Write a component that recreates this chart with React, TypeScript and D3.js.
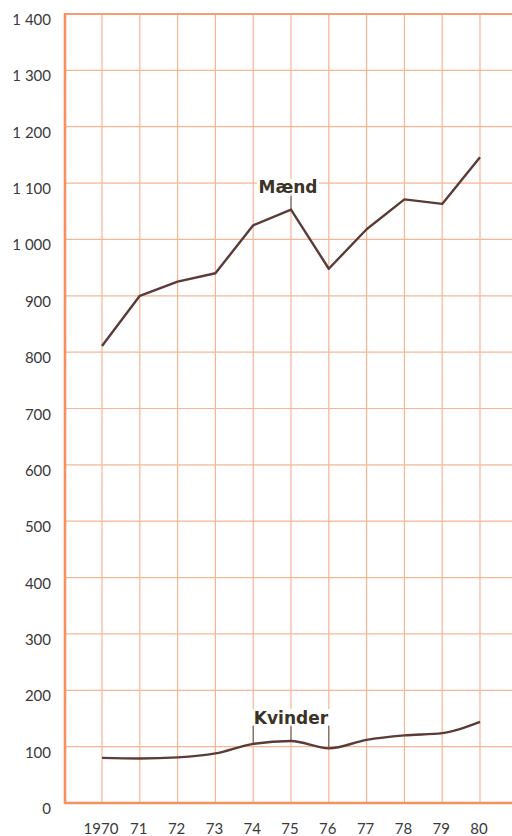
import React from "react";
import * as d3 from "d3";

const years = [1970, 1971, 1972, 1973, 1974, 1975, 1976, 1977, 1978, 1979, 1980];
const yearLabels = ["1970", "71", "72", "73", "74", "75", "76", "77", "78", "79", "80"];
const maend = [811, 900, 925, 940, 1025, 1053, 948, 1018, 1071, 1063, 1146];
const kvinder = [80, 79, 81, 88, 105, 110, 97, 112, 120, 124, 144];
const yTicks = [0, 100, 200, 300, 400, 500, 600, 700, 800, 900, 1000, 1100, 1200, 1300, 1400];

const W = 512;
const H = 836;
const LEFT = 65;
const TOP = 14;
const BOTTOM = 803;

const fmt = (v: number) => {
  const s = String(v);
  return s.length > 3 ? s.slice(0, s.length - 3) + "\u00a0" + s.slice(-3) : s;
};

export default function App() {
  const x = d3.scaleLinear().domain([1970, 1980]).range([102, 480]);
  const y = d3.scaleLinear().domain([0, 1400]).range([BOTTOM, TOP]);

  const lineM = d3
    .line<number>()
    .x((_, i) => x(years[i]))
    .y((d) => y(d))
    .curve(d3.curveLinear);
  const lineK = d3
    .line<number>()
    .x((_, i) => x(years[i]))
    .y((d) => y(d))
    .curve(d3.curveMonotoneX);

  const grid = "#f8b596";
  const axis = "#f7905f";
  const lineColor = "#5a3b38";
  const textColor = "#3a3a3a";

  return (
    <svg
      width={W}
      height={H}
      style={{ position: "absolute", left: 0, top: 0, background: "#fff" }}
    >
      {/* horizontal grid */}
      {yTicks.slice(1, -1).map((t) => (
        <line key={"h" + t} x1={LEFT} x2={W} y1={y(t)} y2={y(t)} stroke={grid} strokeWidth={1.2} />
      ))}
      {/* vertical grid */}
      {years.map((yr) => (
        <line key={"v" + yr} x1={x(yr)} x2={x(yr)} y1={TOP} y2={BOTTOM} stroke={grid} strokeWidth={1.2} />
      ))}
      {/* frame */}
      <line x1={LEFT} x2={W} y1={y(1400)} y2={y(1400)} stroke="#f89a74" strokeWidth={2.2} />
      <line x1={LEFT} x2={LEFT} y1={TOP - 1} y2={BOTTOM + 1} stroke={axis} strokeWidth={2.6} />
      <line x1={LEFT - 1} x2={W} y1={BOTTOM} y2={BOTTOM} stroke={axis} strokeWidth={2.6} />

      {/* y tick labels */}
      {yTicks.map((t) => (
        <text
          key={"yl" + t}
          x={51}
          y={y(t) + 11}
          textAnchor="end"
          fontFamily="Lato, 'DejaVu Sans', sans-serif"
          fontSize={15}
          fill={textColor}
        >
          {fmt(t)}
        </text>
      ))}
      {/* x tick labels */}
      {years.map((yr, i) => (
        <text
          key={"xl" + yr}
          x={x(yr) - 1}
          y={834}
          textAnchor="middle"
          fontFamily="Lato, 'DejaVu Sans', sans-serif"
          fontSize={15}
          fill={textColor}
        >
          {yearLabels[i]}
        </text>
      ))}

      {/* label backgrounds */}
      <rect x={257} y={179} width={62} height={15} fill="#fff" />
      <rect x={250} y={709} width={83} height={16} fill="#fff" />

      {/* leaders */}
      <line x1={x(1975)} x2={x(1975)} y1={196} y2={y(maend[5])} stroke="#555" strokeWidth={1} />
      {[4, 5, 6].map((i) => (
        <line
          key={"ld" + i}
          x1={x(years[i])}
          x2={x(years[i])}
          y1={726}
          y2={y(kvinder[i])}
          stroke="#555"
          strokeWidth={1}
        />
      ))}

      {/* lines */}
      <path d={lineM(maend) || ""} fill="none" stroke={lineColor} strokeWidth={2.4} strokeLinejoin="round" />
      <path d={lineK(kvinder) || ""} fill="none" stroke={lineColor} strokeWidth={2.4} strokeLinejoin="round" />

      {/* series labels */}
      <text x={288} y={193} textAnchor="middle" fontFamily="'DejaVu Sans', sans-serif" fontWeight="bold" fontSize={17} fill="#3b3325">
        Mænd
      </text>
      <text x={291} y={724} textAnchor="middle" fontFamily="'DejaVu Sans', sans-serif" fontWeight="bold" fontSize={17} fill="#3b3325">
        Kvinder
      </text>
    </svg>
  );
}
